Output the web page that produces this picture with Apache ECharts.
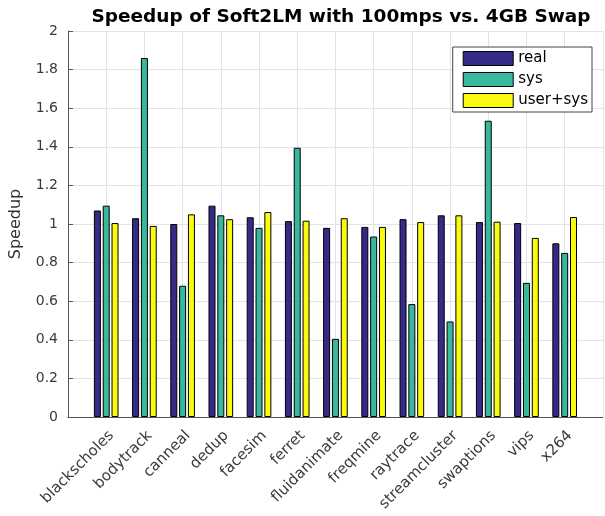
<!DOCTYPE html>
<html>
<head>
<meta charset="utf-8">
<script src="https://cdn.jsdelivr.net/npm/echarts@6/dist/echarts.min.js"></script>
<style>
  html, body { margin: 0; padding: 0; background: #fff; }
  #chart { width: 605px; height: 516px; }
</style>
</head>
<body>
<div id="chart"></div>
<script>
var benchmarks = ['blackscholes', 'bodytrack', 'canneal', 'dedup', 'facesim', 'ferret',
  'fluidanimate', 'freqmine', 'raytrace', 'streamcluster', 'swaptions', 'vips', 'x264'];
var realVals = [1.07, 1.03, 1.00, 1.095, 1.035, 1.015, 0.98, 0.985, 1.025, 1.045, 1.01, 1.005, 0.90];
var sysVals = [1.095, 1.86, 0.68, 1.045, 0.98, 1.395, 0.405, 0.935, 0.585, 0.495, 1.535, 0.695, 0.85];
var userSysVals = [1.005, 0.99, 1.05, 1.025, 1.062, 1.017, 1.03, 0.985, 1.01, 1.045, 1.012, 0.928, 1.036];
var yTicks = [0, 0.2, 0.4, 0.6, 0.8, 1, 1.2, 1.4, 1.6, 1.8, 2];

// pad one empty slot at each end so the axis runs 0..14 like the original
function pad(arr) { return ['-'].concat(arr, ['-']); }
var axisCats = [''].concat(benchmarks, ['']);

var myChart = echarts.init(document.getElementById('chart'));

var barStyle = function (color) {
  return { color: color, borderColor: '#000', borderWidth: 1 };
};

myChart.setOption({
  animation: false,
  textStyle: { fontFamily: 'DejaVu Sans' },
  title: {
    text: 'Speedup of Soft2LM with 100mps vs. 4GB Swap',
    left: 336, textAlign: 'center', top: 3,
    textStyle: { fontSize: 18.5, fontWeight: 'bold', color: '#000', fontFamily: 'DejaVu Sans' }
  },
  legend: {
    right: 13, top: 47,
    orient: 'vertical',
    icon: 'rect',
    itemWidth: 50, itemHeight: 14, itemGap: 6,
    padding: [4, 4, 4, 10],
    borderColor: '#444', borderWidth: 1, backgroundColor: '#fff',
    itemStyle: { borderColor: '#000', borderWidth: 1 },
    textStyle: { fontSize: 15, color: '#000', fontFamily: 'DejaVu Sans' },
    data: ['real', 'sys', 'user+sys']
  },
  grid: { left: 65, right: -3, top: 31, bottom: 99, containLabel: false },
  xAxis: {
    type: 'category',
    data: axisCats,
    boundaryGap: false,
    axisLine: { lineStyle: { color: '#555', width: 1 } },
    axisTick: { show: false },
    axisLabel: {
      rotate: 45, interval: 0, fontSize: 15, color: '#3a3a3a',
      margin: 11, verticalAlign: 'top'
    },
    splitLine: { show: true, lineStyle: { color: '#e3e3e3', width: 1 } }
  },
  yAxis: {
    type: 'value',
    min: 0, max: 2, interval: 0.2,
    name: 'Speedup', nameLocation: 'middle', nameGap: 44,
    nameTextStyle: { fontSize: 16, color: '#333' },
    axisLine: { show: true, lineStyle: { color: '#555', width: 1 } },
    axisTick: { show: true, inside: true, length: 5, lineStyle: { color: '#555' } },
    axisLabel: {
      fontSize: 14, color: '#3a3a3a', margin: 10,
      formatter: function (v) { return String(Math.round(v * 10) / 10); }
    },
    splitLine: { show: true, lineStyle: { color: '#e3e3e3', width: 1 } }
  },
  series: [
    { name: 'real', type: 'bar', data: pad(realVals), barWidth: 7, barGap: '26%', itemStyle: barStyle('#352a87') },
    { name: 'sys', type: 'bar', data: pad(sysVals), barWidth: 7, barGap: '26%', itemStyle: barStyle('#38b99e') },
    { name: 'user+sys', type: 'bar', data: pad(userSysVals), barWidth: 7, barGap: '26%', itemStyle: barStyle('#f9fb0e') }
  ]
});
</script>
</body>
</html>
